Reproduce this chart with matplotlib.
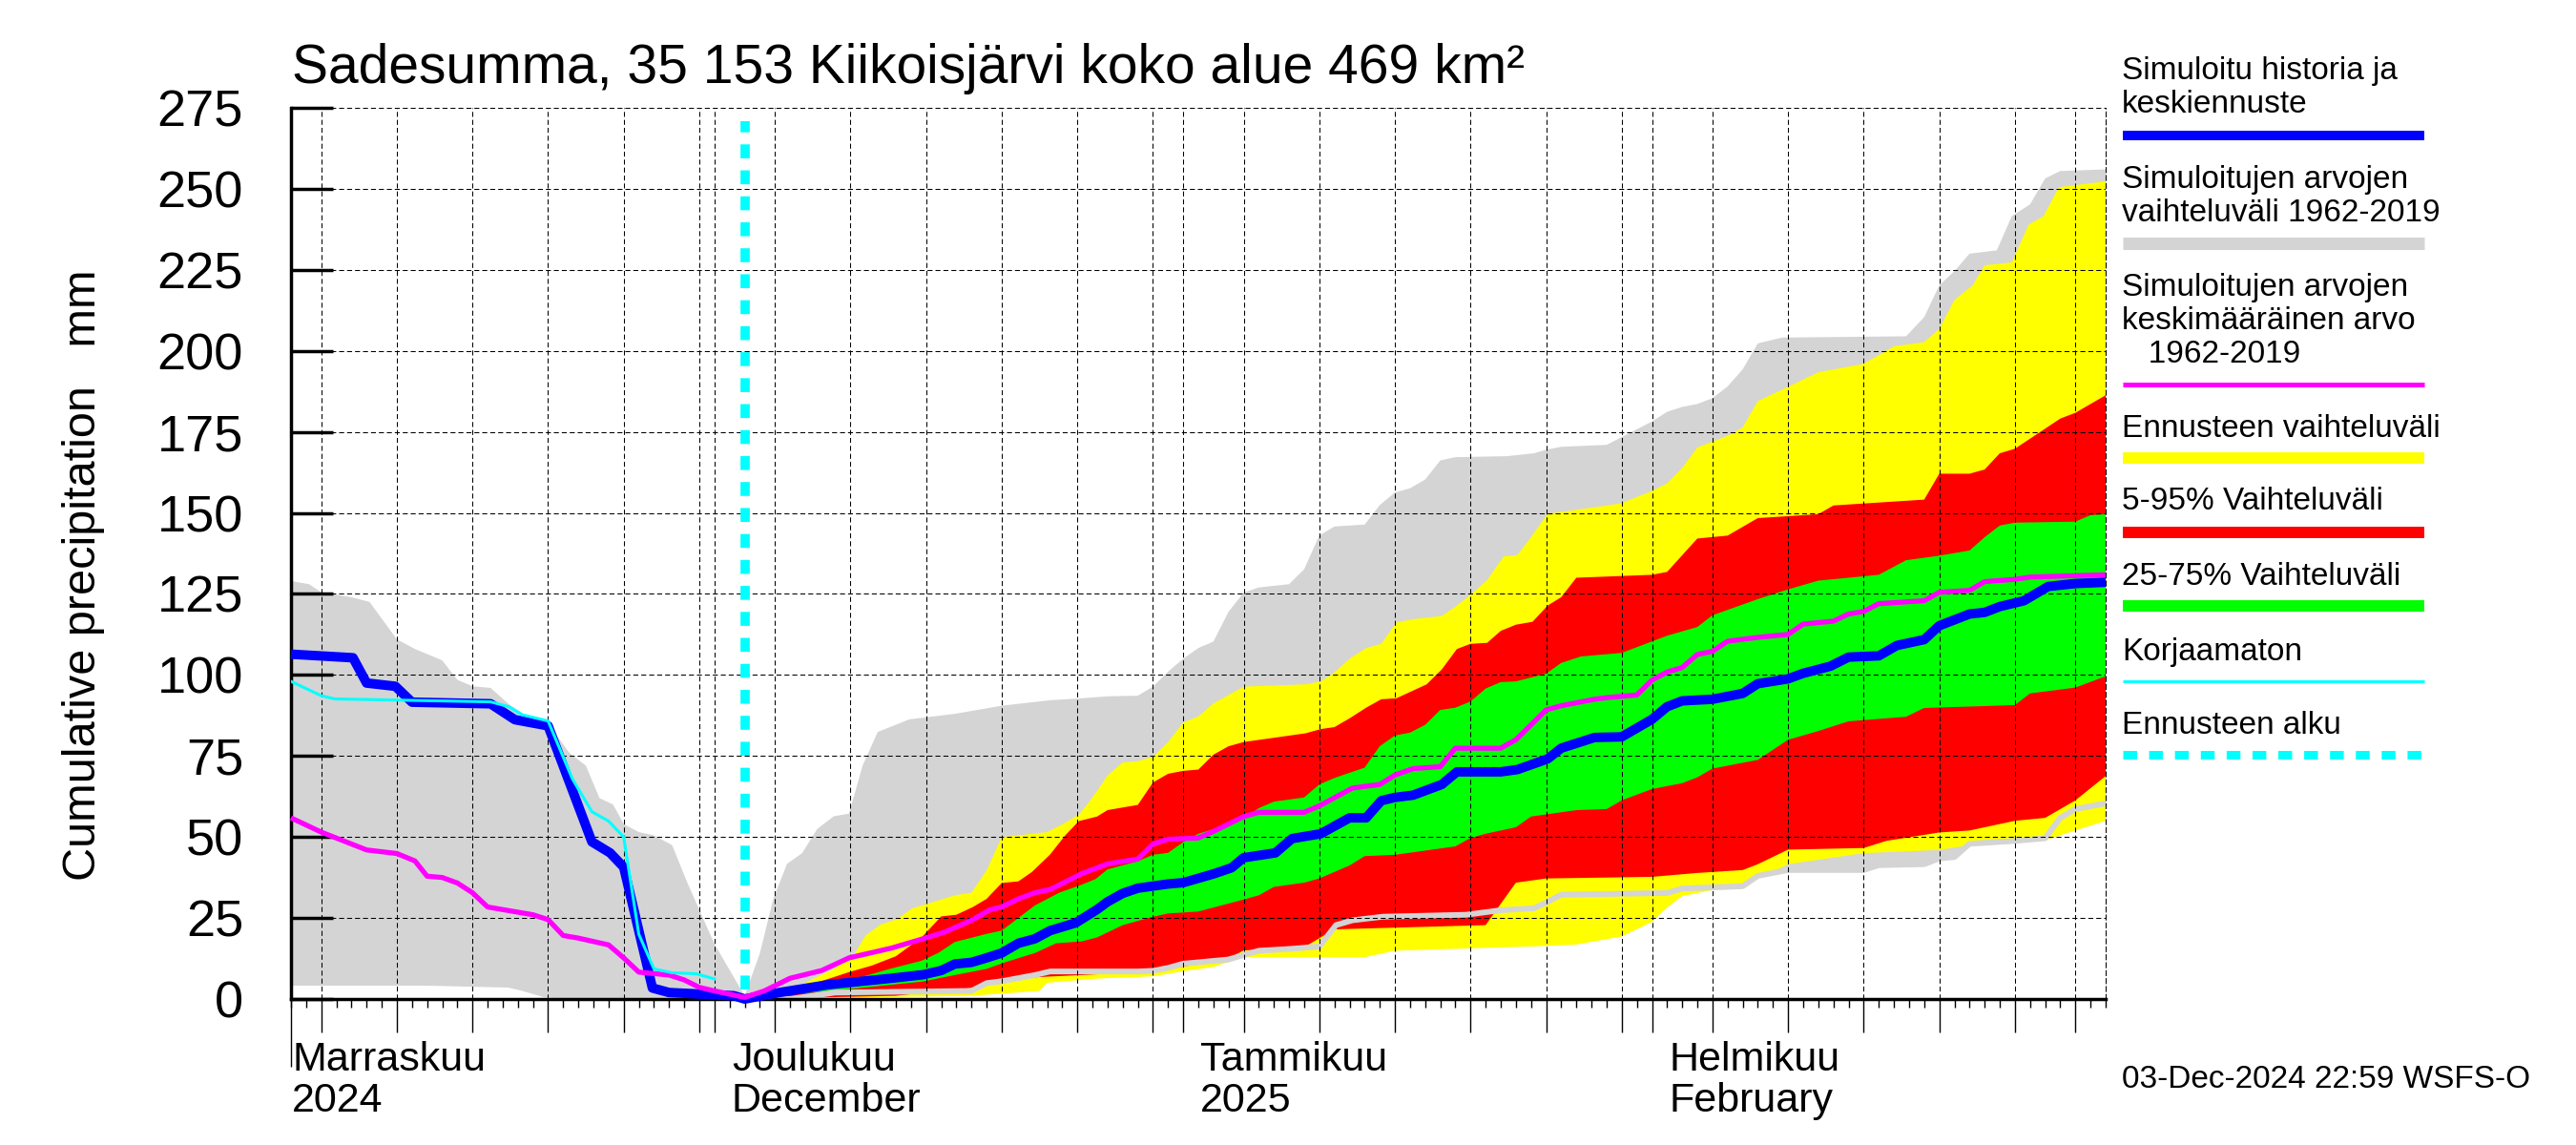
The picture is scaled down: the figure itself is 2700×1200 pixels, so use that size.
import numpy as np
import matplotlib.pyplot as plt
import matplotlib.dates as mdates
from matplotlib.lines import Line2D
from matplotlib.transforms import blended_transform_factory, offset_copy

plt.rcParams['font.family'] = ['Liberation Sans', 'DejaVu Sans']

# Aika-akseli: päiviä alkupäivästä (3.11.2024)
start = np.datetime64("2024-11-03T00:00")
end = np.datetime64("2025-03-03T00:00")
forecast_start = np.datetime64("2024-12-03T00:00")

# (päivä, mm) pareja luettuna kuvasta
gray_hi = [(0, 129), (1.2, 128), (2, 125.5), (4, 124), (5.2, 122.5), (7, 111), (8.2, 108), (10, 104.5),
           (11, 98.5), (12, 96.5), (13.2, 96), (14.4, 91), (15.7, 87), (17, 85), (18.4, 76), (19.5, 72),
           (20.4, 62), (21.3, 60), (22, 54), (23, 51.5), (24, 50.5), (25.2, 47.5), (26.2, 36), (28, 17),
           (30, 1), (31, 14), (31.9, 31), (32.8, 41.7), (33.8, 45), (34.8, 52.5), (35.9, 56.4), (36.9, 57.2),
           (37.8, 72), (38.8, 82.4), (40.9, 86.3), (43.9, 88), (47, 90.5), (50.2, 92.2), (52.3, 92.8),
           (54, 93.4), (56, 93.6), (57, 96.4), (58, 101), (59, 105), (60, 108.3), (61, 110.3), (62, 119.5),
           (63, 125.4), (64, 127), (66, 128), (67, 132.6), (68, 143), (69, 145.8), (71, 146.4), (72, 152.4),
           (73, 156.3), (74, 157.6), (75, 160.3), (76, 166.2), (77, 167.2), (80.4, 167.5), (82.2, 168.4),
           (83, 169.5), (84, 170.4), (87, 171), (88, 173.4), (90, 178.2), (91, 181.2), (92, 182.7),
           (93, 183.6), (94, 185.4), (95, 189), (96, 194.3), (97, 202.3), (98.6, 204.1), (106.8, 204.5),
           (108, 210.4), (109, 220.2), (110, 224.6), (111, 230), (112.8, 231), (113.8, 241.6), (115, 245.2),
           (116, 253.2), (117, 255.5), (120, 256)]
gray_lo = [(0, 5), (9, 5), (14.4, 4.4), (15.3, 3.4), (16.7, 1.5), (20, 0), (33, 0), (36, 2), (45, 2.5),
           (46, 4.9), (47, 5.5), (49.2, 7.4), (50.2, 8.5), (56, 8.5), (57, 8.7), (58, 9.6), (59, 10.9),
           (62, 12.2), (63, 13.6), (64, 14.9), (66.2, 15.5), (68, 16.2), (69.1, 22.8), (70.2, 24.3),
           (72.2, 25.4), (77.7, 26), (80, 27.4), (82.2, 28), (83.1, 30), (84, 32.2), (91, 32.7), (92, 34.1),
           (96, 34.8), (97, 38), (99, 39.8), (104, 39.8), (105, 41.3), (108, 41.6), (109, 43.4), (110, 43.8),
           (111, 47.9), (114, 48.8), (116, 49.6), (117, 55.9), (118, 58.6), (120, 60.4)]

yellow_hi = [(30, 0), (33.3, 3.4), (35.9, 9.3), (37.3, 14.2), (38, 19.6), (39, 23), (40, 24.5), (41.1, 28),
             (42.8, 30.4), (43.9, 32), (45, 32.8), (46, 39.7), (47, 50), (48.1, 50.5), (50, 51.5), (51.2, 54.4),
             (52.1, 56.9), (52.7, 60.3), (53.3, 64.2), (54, 69), (55, 73), (56, 73.4), (57, 74.7), (58, 79.3),
             (59, 85.3), (60, 87.2), (61, 91.2), (63, 96.4), (67.1, 97.1), (68.1, 98), (68.9, 100.4), (70, 105),
             (71.1, 108.3), (72.1, 109.6), (73.1, 116.2), (74.2, 117.2), (76.1, 118.2), (77.1, 121.4),
             (78.1, 125.1), (79.1, 129.3), (80.2, 136.6), (81.1, 137), (82, 142.5), (83.1, 149.7), (86.6, 152),
             (88, 153), (90, 156.8), (91, 159.1), (92, 163.9), (93, 170.2), (95, 173.8), (96, 176.4),
             (97, 184.5), (99, 188.9), (101, 193.4), (104, 196), (106, 201.4), (108, 202.7), (109, 206.8),
             (110, 215.7), (111.2, 220.2), (112, 226.4), (113.8, 227.3), (114.9, 238.9), (115.9, 241.6),
             (116.9, 250.5), (120, 252.3)]
yellow_lo = [(30, 0), (45, 1), (49.5, 2.5), (50, 5), (53.3, 6.3), (57, 7), (59, 8.6), (61, 9.9), (63, 12.9),
             (71, 12.9), (73, 14.9), (82, 16.2), (85, 16.8), (88, 19.3), (90, 23.8), (91, 28.2), (92, 31.8),
             (94, 33.6), (96, 34.1), (97, 37.1), (99, 41.6), (104, 45), (109, 46), (111, 47.5), (114, 48),
             (116, 49), (118, 52), (120, 55)]

red_hi = [(30, 0), (35, 5.4), (36.9, 8.3), (38.4, 10.3), (40, 13.2), (41.7, 19), (43, 25.5), (44, 26),
          (45.1, 28.4), (46, 30.9), (47, 35.8), (48.1, 36.3), (49, 39.2), (50.2, 44.6), (51.2, 50.5),
          (52.1, 54.9), (53.3, 56.3), (54, 58.3), (56, 59.9), (57, 66.8), (58, 69.5), (59, 70.4), (60, 70.8),
          (61, 75.4), (62, 78), (63, 79.3), (67.1, 82), (68.1, 83.3), (69, 83.9), (70, 86.6), (71.1, 89.9),
          (72.1, 92.5), (73.1, 92.8), (75.1, 97.1), (76.1, 101.7), (77.1, 108), (78, 109.6), (79.1, 109.9),
          (80, 113.6), (81, 115.5), (82.1, 116.4), (83.1, 121.4), (84, 124), (85, 130), (90, 130.9),
          (91, 131.8), (93, 142.1), (95, 143), (97, 148.4), (101, 149.6), (102, 152.3), (108, 154.1),
          (109, 162.1), (111, 162.1), (112, 163.4), (113, 168.4), (114, 169.8), (115, 172.9), (117, 179.1),
          (118, 180.9), (120, 186.3)]
red_lo = [(30, 0), (40, 1), (42, 2), (45, 3.4), (46, 4.9), (47, 5.9), (48, 6.4), (50, 6.9), (52.3, 7.4),
          (57, 8.5), (59, 10), (62, 12.5), (63, 15), (67, 16), (69, 21.5), (79, 22.8), (80.2, 30.7),
          (81, 35.9), (83, 37.2), (90, 37.7), (93, 38.9), (96, 39.8), (97, 41.6), (99, 46.1), (104, 46.6),
          (105.5, 48.8), (109, 51.4), (111, 52), (114, 55), (116, 55.9), (118, 61.3), (120, 68.8)]

green_hi = [(30, 0), (36.7, 5.4), (39.6, 9.3), (41.7, 11.8), (42.8, 14.2), (43.9, 17.6), (46, 20.1),
            (47, 21.1), (48.1, 25), (49.2, 28.9), (50.8, 32.8), (52.3, 35.3), (53.2, 37), (54, 40),
            (56, 42.5), (57, 44.5), (58, 45.1), (59, 48.4), (60, 51), (61, 52.4), (63, 55.7), (64, 58.9),
            (65, 60.9), (67, 62.2), (68, 66.2), (69, 68.2), (71, 71.4), (72, 78), (73, 81.3), (74, 82.2),
            (75, 84.6), (76, 89.2), (77, 89.9), (78, 91.8), (79, 95.8), (80, 97.8), (81, 98), (83, 100.4),
            (84, 103.7), (85.3, 105.7), (88, 106.8), (91, 112.1), (93, 114.8), (94, 118.4), (97, 123.4),
            (99, 126.4), (101, 129.1), (105, 130.9), (106.8, 135.4), (109, 136.8), (111, 138.4), (112, 142.5),
            (113, 146.1), (114, 147), (118, 147.3), (119, 149.3), (120, 149.6)]
green_lo = [(30, 0), (37.6, 3.4), (41.8, 5.4), (43.9, 7.4), (46, 9.3), (47.2, 11.3), (49.2, 14.2),
            (50.6, 17.2), (52.3, 17.8), (53.3, 19), (55, 22.8), (57, 25.4), (58, 26.4), (60, 27), (63, 30.7),
            (64, 32), (65, 34.6), (67, 35.9), (68, 37.2), (69, 39.2), (70, 41.2), (71, 44.1), (73, 44.5),
            (77, 47.1), (78, 49.7), (79, 51), (81, 53), (82, 56.3), (85, 58.3), (87, 58.6), (88, 61.3),
            (90, 64.8), (92, 66.6), (93, 68.4), (94, 71.1), (97, 73.8), (99, 80), (101, 82.7), (103, 85.7),
            (106.8, 87.1), (108, 89.8), (114, 90.7), (115, 94.3), (118, 96.1), (120, 99.6)]

# simuloitu historia ja keskiennuste
median = [(0, 106.4), (4.1, 105.3), (5, 97.5), (6.9, 96.5), (8, 91.6), (13.2, 91.1), (14.8, 86.2), (17, 84.3),
          (19.9, 48.5), (21.1, 45.1), (22, 40.7), (23.9, 3.4), (25, 2), (29.3, 1), (30, 0), (32.3, 2),
          (35.5, 4.4), (37.6, 5.4), (39.7, 6.4), (41.8, 7.5), (43, 8.8), (43.9, 10.8), (45, 11.3), (46, 12.7),
          (47, 14.2), (48.1, 17.2), (49.2, 18.6), (50.2, 21.1), (51.9, 23.5), (53.3, 27.6), (54, 30),
          (55, 32.6), (56, 34.2), (58, 35.5), (59, 35.9), (61, 38.6), (62.2, 40.5), (63, 43.6), (65.1, 45.1),
          (66.2, 49.5), (68.1, 51), (70, 55.9), (71.1, 55.9), (72.1, 61.2), (73, 62.2), (74.2, 62.9),
          (76.1, 66.2), (77.1, 70.1), (80, 70.1), (81.1, 70.8), (83.1, 74.1), (84, 77.4), (86.2, 80.7),
          (88, 80.9), (89, 83.6), (90, 86.3), (91, 90.2), (92, 92), (94, 92.5), (96, 94.3), (97, 97.3),
          (99, 98.8), (100, 100.5), (101.8, 102.7), (103, 105.5), (105, 105.9), (106.2, 109.1), (108, 110.9),
          (109, 115.2), (111, 118.8), (112, 119.3), (113, 121.1), (114.6, 122.9), (116.2, 127.3),
          (118, 128.2), (120, 128.6)]

# keskimääräinen arvo 1962-2019
mean_hist = [(0, 55.9), (2, 51.5), (5, 46), (7, 44.9), (8.2, 42.6), (9, 37.9), (10, 37.5), (11, 35.8),
             (12, 32.8), (13, 28.4), (16, 26), (17, 24.5), (18, 19.6), (19, 18.8), (21, 16.7), (22, 12.7),
             (23, 8.3), (25, 7.4), (26, 5.9), (27, 3.6), (28, 2.5), (29, 1.5), (30, 0.5), (31.3, 2.5), (33, 6.4),
             (35.1, 8.8), (36.9, 12.7), (39.7, 15.7), (41.8, 18.6), (43.2, 20.6), (45.1, 24.5), (46.2, 27.5),
             (47, 28.4), (48.1, 30.9), (49.2, 32.8), (50.2, 33.8), (52.3, 38.7), (54, 41.7), (56, 43.2),
             (57, 47.8), (58, 49.3), (60, 49.7), (61, 51.7), (63, 56.3), (64, 57.6), (67, 57.6), (68, 59.6),
             (70.2, 65.1), (72, 66.2), (73, 69.1), (74.2, 71.1), (76, 71.7), (77, 77.4), (80, 77.4), (81, 80),
             (83, 89.2), (84, 90.5), (86.2, 92.5), (87, 93), (89, 93.8), (90, 98.4), (91, 100.9), (92, 102.3),
             (93, 106.3), (94, 107.3), (95, 110.4), (97, 111.6), (99, 112.5), (100, 115.7), (102, 116.6),
             (103, 118.8), (104, 119.6), (105, 122), (108, 122.9), (109, 125.5), (111, 126.1), (112, 128.8),
             (114, 129.5), (115, 130.2), (120, 130.9)]

# korjaamaton
uncorrected = [(0, 98), (2, 93.6), (2.9, 92.6), (13.2, 91.7), (14.4, 90.2), (15.3, 87.7), (17, 85.8),
               (18.6, 68), (19.9, 57.8), (21, 54.9), (22, 50), (23, 20), (24, 9.3), (25.2, 8.1), (26.8, 7.8),
               (28, 6.2)]

month_starts = ["2024-11-01", "2024-12-01", "2025-01-01", "2025-02-01"]
month_names = ["Marraskuu", "Joulukuu", "Tammikuu", "Helmikuu"]
month_sub = ["2024", "December", "2025", "February"]

legend_texts = [["Simuloitu historia ja", "keskiennuste"],
                ["Simuloitujen arvojen", "vaihteluväli 1962-2019"],
                ["Simuloitujen arvojen", "keskimääräinen arvo", "   1962-2019"],
                ["Ennusteen vaihteluväli"],
                ["5-95% Vaihteluväli"],
                ["25-75% Vaihteluväli"],
                ["Korjaamaton"],
                ["Ennusteen alku"]]

GRAY = "#d4d4d4"


def to_x(pairs):
    d = np.array([p[0] for p in pairs], dtype=float)
    dt = start + np.round(d * 1440).astype(int).astype("timedelta64[m]")
    return mdates.date2num(dt)


def vals(pairs):
    return np.array([p[1] for p in pairs], dtype=float)


def band(ax, hi, lo, color, z):
    xs = np.concatenate([to_x(hi), to_x(lo)[::-1]])
    ys = np.concatenate([vals(hi), vals(lo)[::-1]])
    ax.fill(xs, ys, color=color, lw=0, zorder=z)


W, H = 2700, 1200
fig = plt.figure(figsize=(27, 12), dpi=100)
ax = fig.add_axes([305 / W, 1 - 1047 / H, (2207 - 305) / W, (1047 - 113) / H])

band(ax, gray_hi, gray_lo, GRAY, 1.0)
band(ax, yellow_hi, yellow_lo, "#ffff00", 1.1)
band(ax, red_hi, red_lo, "#ff0000", 1.2)
band(ax, green_hi, green_lo, "#00ff00", 1.3)
ax.plot(to_x(gray_lo), vals(gray_lo), color=GRAY, lw=4.3, zorder=1.4)

ax.plot(to_x(median), vals(median), color="#0000ff", lw=7.2, zorder=3, clip_on=False, solid_capstyle="butt")
ax.plot(to_x(mean_hist), vals(mean_hist), color="#ff00ff", lw=3.8, zorder=3.1, clip_on=False,
        solid_capstyle="butt")
ax.plot(to_x(uncorrected), vals(uncorrected), color="#00ffff", lw=2.2, zorder=3.2)
ax.axvline(mdates.date2num(forecast_start), ymin=0.011, ymax=0.985, color="#00ffff", lw=7,
           linestyle=(0, (1.5, 1.3)), zorder=3.3)

ax.set_xlim(mdates.date2num(start), mdates.date2num(end))
ax.set_ylim(0, 275)
ax.set_yticks(np.arange(0, 276, 25))
ax.tick_params(axis="y", direction="in", length=32, width=2.5, labelsize=39, pad=36)

ax.xaxis.set_major_locator(mdates.DayLocator(bymonthday=[1, 5, 10, 15, 20, 25, 30]))
ax.xaxis.set_minor_locator(mdates.DayLocator())
ax.tick_params(axis="x", which="major", direction="out", length=25, width=1, labelbottom=False)
ax.tick_params(axis="x", which="minor", direction="out", length=6.5, width=1)

ax.set_axisbelow(False)
ax.grid(True, which="major", color="black", lw=0.75, linestyle=(0, (5, 3)))

for s in ["left", "bottom"]:
    ax.spines[s].set_linewidth(2.5)
ax.spines["top"].set_visible(False)
ax.spines["right"].set_linestyle((0, (5, 3)))
ax.spines["right"].set_linewidth(0.75)

# kuukausien pitkät viivat
ax2 = ax.twiny()
ax2.xaxis.set_major_locator(mdates.MonthLocator())
ax2.xaxis.set_minor_locator(mdates.DayLocator(bymonthday=[40]))
ax2.xaxis.set_ticks_position("bottom")
ax2.tick_params(axis="x", which="major", direction="out", length=51, width=1, labelbottom=False,
                labeltop=False)
for s in ax2.spines.values():
    s.set_visible(False)

ax.set_ylabel("Cumulative precipitation   mm", fontsize=35)
ax.yaxis.set_label_coords(-(305 - 110) / (2207 - 305), (1047 - 603) / (1047 - 113))

fig.text(306 / W, 1 - 87 / H, "Sadesumma, 35 153 Kiikoisjärvi koko alue 469 km²", fontsize=41,
         va="baseline", ha="left")

trans = blended_transform_factory(ax.transData, ax.transAxes)
for m, name, sub in zip(month_starts, month_names, month_sub):
    mx = mdates.date2num(np.datetime64(m))
    if mx < mdates.date2num(start):
        mx, dx = mdates.date2num(start), 1
    else:
        dx = 18
    t1 = offset_copy(trans, fig=fig, x=dx, y=-75, units="dots")
    t2 = offset_copy(trans, fig=fig, x=dx, y=-118, units="dots")
    ax.text(mx, 0, name, transform=t1, fontsize=31, va="baseline", ha="left")
    ax.text(mx, 0, sub, transform=t2, fontsize=31, va="baseline", ha="left")

# selite
leg_styles = [dict(color="#0000ff", lw=7.2), dict(color=GRAY, lw=9.4), dict(color="#ff00ff", lw=3.6),
              dict(color="#ffff00", lw=8.6), dict(color="#ff0000", lw=8.6), dict(color="#00ff00", lw=8.6),
              dict(color="#00ffff", lw=2.2), dict(color="#00ffff", lw=6.5, linestyle=(0, (1.6, 1.4)))]
baselines = [83.5, 197, 310, 458, 534.5, 613, 692, 768.6]
line_y = [142, 254.6, 402.6, 480, 558, 635, 713.5, 791]
for lines, st, b, ly in zip(legend_texts, leg_styles, baselines, line_y):
    for i, txt in enumerate(lines):
        fig.text(2224 / W, 1 - (b + 35 * i) / H, txt, fontsize=24, va="baseline", ha="left")
    fig.add_artist(Line2D([2225 / W, 2541 / W], [1 - ly / H, 1 - ly / H], solid_capstyle="butt", **st))

fig.text(2224 / W, 1 - 1140 / H, "03-Dec-2024 22:59 WSFS-O", fontsize=24, va="baseline", ha="left")

fig.savefig("out.png", dpi=100)
